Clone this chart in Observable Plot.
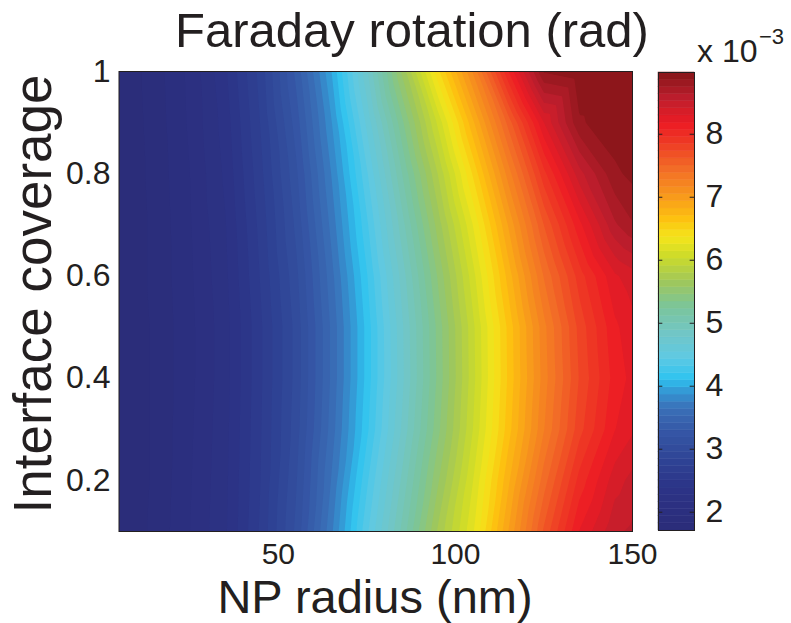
<!DOCTYPE html>
<html><head><meta charset="utf-8">
<script src="https://cdn.jsdelivr.net/npm/d3@7"></script>
<script src="https://cdn.jsdelivr.net/npm/@observablehq/plot@0.6"></script>
<style>
body{margin:0;background:#fff;}
#wrap{position:relative;width:791px;height:623px;font-family:"Liberation Sans",Arial,Helvetica,sans-serif;color:#231f20;overflow:hidden;background:#fff}
.t{position:absolute;white-space:nowrap;line-height:1;color:#231f20}
#wrap svg{position:absolute;top:0;}
</style></head><body><div id="wrap"></div>
<script>
// NP radius (nm) sample columns
const radius = [5, 15, 25, 35, 45, 55, 65, 75, 85, 95, 105, 115, 125, 135, 145, 150];
// Interface coverage sample rows
const coverage = [0.1, 0.2, 0.3, 0.4, 0.5, 0.6, 0.7, 0.8, 0.9, 1.0];
// Faraday rotation (x 10^-3 rad), one row per coverage
const rotation = [
  [1.72,1.85,2.05,2.26,2.64,3.10,3.73,4.41,5.04,5.70,6.24,6.94,7.64,8.19,8.50,8.55],
  [1.72,1.84,2.04,2.25,2.62,3.06,3.65,4.30,4.92,5.55,6.14,6.80,7.45,8.00,8.36,8.45],
  [1.72,1.84,2.03,2.24,2.61,3.02,3.58,4.18,4.80,5.42,6.03,6.66,7.27,7.80,8.18,8.28],
  [1.72,1.84,2.02,2.23,2.60,3.00,3.55,4.14,4.75,5.37,5.99,6.62,7.22,7.74,8.12,8.22],
  [1.72,1.84,2.02,2.23,2.60,3.00,3.55,4.14,4.76,5.38,6.00,6.63,7.24,7.77,8.16,8.26],
  [1.72,1.85,2.03,2.25,2.63,3.04,3.60,4.20,4.83,5.47,6.10,6.76,7.40,7.90,8.28,8.36],
  [1.72,1.85,2.04,2.27,2.66,3.10,3.68,4.30,4.96,5.62,6.26,6.95,7.62,8.15,8.62,8.74],
  [1.72,1.86,2.05,2.30,2.70,3.16,3.76,4.42,5.12,5.80,6.50,7.22,7.92,8.48,8.84,8.90],
  [1.72,1.87,2.07,2.33,2.74,3.24,3.86,4.58,5.32,6.05,6.80,7.55,8.30,8.85,8.94,8.95],
  [1.72,1.88,2.08,2.37,2.78,3.33,3.98,4.76,5.60,6.44,7.18,8.07,8.88,8.96,8.97,8.98]
];
const xTicks = [50, 100, 150];
const yTicks = [0.2, 0.4, 0.6, 0.8, 1];
const colorTicks = [2, 3, 4, 5, 6, 7, 8];
const colorExtent = [1.71, 8.98];
const colorStopValues = [1.71, 2.3, 2.7, 3.2, 3.6, 3.9, 4.05, 4.4, 4.8, 5.2, 5.6, 6.0, 6.3, 6.6, 7.0, 7.4, 7.8, 8.1, 8.5, 8.98];
const colorStopColors = ["#2b2d7a","#2c3386","#2e4193","#3556a5","#3a71b8","#33a0da","#2ec3f0","#5fc9e3","#72c6c4","#7bc59a","#a0c75a","#cddb2a","#f4e51b","#fdc010","#f7941d","#f26b27","#ee3b24","#ed1c24","#be1e2d","#7e1416"];
const nLevels = 64;

const font = '"Liberation Sans", Arial, Helvetica, sans-serif';
const ink = "#231f20";

const grid = [];
coverage.forEach((c, i) => radius.forEach((r, j) => grid.push({r, c, v: rotation[i][j]})));
const [vMin, vMax] = colorExtent;
const thresholds = d3.range(nLevels).map(i => vMin + i * (vMax - vMin) / nLevels);
const colorScale = {type: "linear", domain: colorStopValues, range: colorStopColors, clamp: true};

const main = Plot.plot({
  width: 660, height: 623,
  marginLeft: 118.5, marginRight: 28, marginTop: 71, marginBottom: 92,
  x: {domain: [5, 150]},
  y: {domain: [0.1, 1]},
  color: colorScale,
  style: {fontFamily: font, color: ink, background: "transparent"},
  marks: [
    Plot.contour(grid, {x: "r", y: "c", fill: "v", interpolate: "barycentric", thresholds, pixelSize: 1}),
    Plot.frame({stroke: ink, strokeWidth: 1}),
    Plot.axisX({ticks: xTicks, tickSize: 0, tickPadding: 11, fontSize: 30, label: null}),
    Plot.axisY({ticks: yTicks, tickSize: 0, tickPadding: 8.5, fontSize: 32, label: null, tickFormat: d3.format("~g")})
  ]
});

const bands = thresholds.map((t, i) => ({y1: t, y2: i < nLevels - 1 ? thresholds[i + 1] : vMax}));
const bar = Plot.plot({
  width: 151, height: 623,
  marginLeft: 18, marginRight: 97, marginTop: 72, marginBottom: 93,
  x: {domain: [0, 1], axis: null},
  y: {domain: colorExtent},
  color: colorScale,
  style: {fontFamily: font, color: ink, background: "transparent"},
  marks: [
    Plot.rect(bands, {x1: 0, x2: 1, y1: "y1", y2: "y2", fill: "y1", stroke: "y1", strokeWidth: 0.5}),
    Plot.frame({stroke: ink, strokeWidth: 1}),
    Plot.ruleY(colorTicks, {x1: 0, x2: 0.12, stroke: ink}),
    Plot.ruleY(colorTicks, {x1: 0.88, x2: 1, stroke: ink}),
    Plot.axisY({anchor: "right", ticks: colorTicks, tickSize: 0, tickPadding: 11, fontSize: 32, label: null})
  ]
});

const wrap = document.getElementById("wrap");
main.style.left = "0px";
bar.style.left = "640px";
wrap.appendChild(main);
wrap.appendChild(bar);

function addText(txt, css) {
  const d = document.createElement("div");
  d.className = "t";
  d.textContent = txt;
  Object.assign(d.style, css);
  wrap.appendChild(d);
  return d;
}
addText("Faraday rotation (rad)", {left: "412px", top: "5.5px", fontSize: "49px", transform: "translateX(-50%)"});
addText("x 10", {left: "697px", top: "35px", fontSize: "32px"});
addText("\u22123", {left: "759px", top: "26px", fontSize: "22px"});
addText("NP radius (nm)", {left: "375px", top: "573.2px", fontSize: "47px", transform: "translateX(-50%)"});
addText("Interface coverage", {left: "32px", top: "294px", fontSize: "53px", transform: "translate(-50%,-50%) rotate(-90deg)"});
</script></body></html>
